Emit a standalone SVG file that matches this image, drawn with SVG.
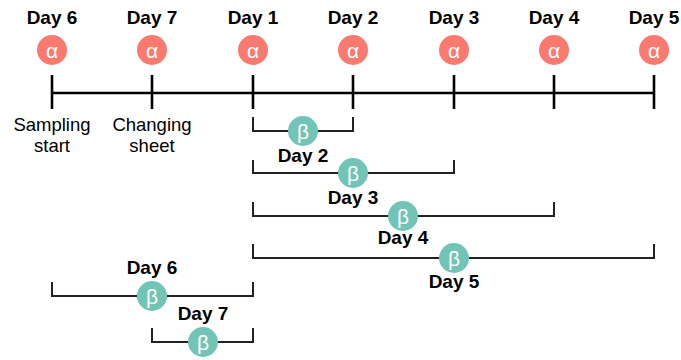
<svg xmlns="http://www.w3.org/2000/svg" width="681" height="360" viewBox="0 0 681 360">
  <style>
    .day { font-family: "Liberation Sans", Arial, sans-serif; font-weight: bold; font-size: 19px; fill: #000; text-anchor: middle; }
    .note { font-family: "Liberation Sans", Arial, sans-serif; font-size: 18.5px; fill: #000; text-anchor: middle; }
    .sym { font-family: "Liberation Sans", Arial, sans-serif; font-size: 21px; fill: #fff; text-anchor: middle; dominant-baseline: central; }
    .alpha { fill: #FA7A70; }
    .beta { fill: #72C4B7; }
    .axis { stroke: #000; stroke-width: 2.6; fill: none; }
    .span { stroke: #222; stroke-width: 2; fill: none; }
  </style>
  <rect width="681" height="360" fill="#fff"/>

  <!-- timeline axis and day ticks -->
  <g id="connectors">
    <line class="axis" x1="52" y1="93" x2="654" y2="93"/>
    <g class="axis">
      <line x1="52" y1="75" x2="52" y2="109"/>
      <line x1="152" y1="75" x2="152" y2="109"/>
      <line x1="253" y1="75" x2="253" y2="109"/>
      <line x1="353" y1="75" x2="353" y2="109"/>
      <line x1="454" y1="75" x2="454" y2="109"/>
      <line x1="554" y1="75" x2="554" y2="109"/>
      <line x1="654" y1="75" x2="654" y2="109"/>
    </g>
    <!-- beta sampling spans -->
    <path class="span" d="M253,117 V131 H353 V117"/>
    <path class="span" d="M253,160 V173 H454 V160"/>
    <path class="span" d="M253,202 V216 H554 V202"/>
    <path class="span" d="M253,244 V258 H654 V244"/>
    <path class="span" d="M52,282 V296 H253 V282"/>
    <path class="span" d="M152,328 V342 H253 V328"/>
  </g>

  <!-- alpha days along the axis -->
  <g id="alpha-day6"><text class="day" x="52" y="23.5">Day 6</text><circle class="alpha" cx="52" cy="50" r="15"/><text class="sym" x="52" y="50">α</text></g>
  <g id="alpha-day7"><text class="day" x="152" y="23.5">Day 7</text><circle class="alpha" cx="152" cy="50" r="15"/><text class="sym" x="152" y="50">α</text></g>
  <g id="alpha-day1"><text class="day" x="253" y="23.5">Day 1</text><circle class="alpha" cx="253" cy="50" r="15"/><text class="sym" x="253" y="50">α</text></g>
  <g id="alpha-day2"><text class="day" x="353" y="23.5">Day 2</text><circle class="alpha" cx="353" cy="50" r="15"/><text class="sym" x="353" y="50">α</text></g>
  <g id="alpha-day3"><text class="day" x="454" y="23.5">Day 3</text><circle class="alpha" cx="454" cy="50" r="15"/><text class="sym" x="454" y="50">α</text></g>
  <g id="alpha-day4"><text class="day" x="554" y="23.5">Day 4</text><circle class="alpha" cx="554" cy="50" r="15"/><text class="sym" x="554" y="50">α</text></g>
  <g id="alpha-day5"><text class="day" x="654" y="23.5">Day 5</text><circle class="alpha" cx="654" cy="50" r="15"/><text class="sym" x="654" y="50">α</text></g>

  <!-- axis notes -->
  <g id="note-sampling"><text class="note" x="52" y="131">Sampling</text><text class="note" x="52" y="152">start</text></g>
  <g id="note-changing"><text class="note" x="152" y="131">Changing</text><text class="note" x="152" y="152">sheet</text></g>

  <!-- beta days on the spans -->
  <g id="beta-day2"><circle class="beta" cx="303" cy="131" r="15"/><text class="sym" x="303" y="131">β</text><text class="day" x="303" y="162">Day 2</text></g>
  <g id="beta-day3"><circle class="beta" cx="353" cy="173" r="15"/><text class="sym" x="353" y="173">β</text><text class="day" x="353" y="203.5">Day 3</text></g>
  <g id="beta-day4"><circle class="beta" cx="403" cy="216" r="15"/><text class="sym" x="403" y="216">β</text><text class="day" x="403" y="244">Day 4</text></g>
  <g id="beta-day5"><circle class="beta" cx="454" cy="258" r="15"/><text class="sym" x="454" y="258">β</text><text class="day" x="454" y="288">Day 5</text></g>
  <g id="beta-day6"><text class="day" x="152" y="274">Day 6</text><circle class="beta" cx="152" cy="296" r="15"/><text class="sym" x="152" y="296">β</text></g>
  <g id="beta-day7"><text class="day" x="203" y="320">Day 7</text><circle class="beta" cx="203" cy="342" r="15"/><text class="sym" x="203" y="342">β</text></g>
</svg>
